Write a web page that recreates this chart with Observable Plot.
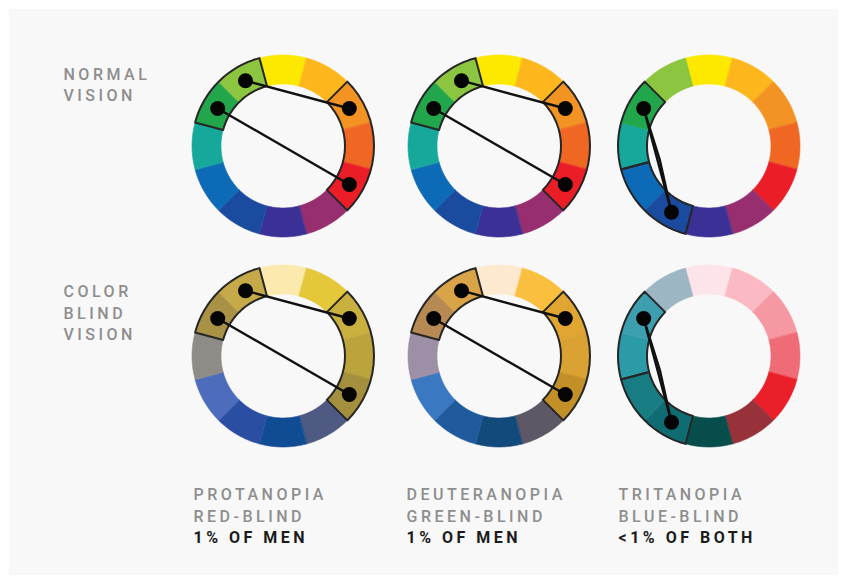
<!DOCTYPE html>
<html><head><meta charset="utf-8">
<script src="https://cdn.jsdelivr.net/npm/d3@7"></script>
<script src="https://cdn.jsdelivr.net/npm/@observablehq/plot@0.6"></script>
<style>
html,body{margin:0;padding:0;background:#fff;}
#wrap{position:relative;width:846px;height:583px;overflow:hidden;}
#panel{position:absolute;left:9px;top:9px;width:829px;height:566px;background:#f8f8f8;}
#chart{position:absolute;left:0;top:0;}
</style></head><body>
<div id="wrap"><div id="panel"></div><div id="chart"></div></div>
<script>
// ---- data ----
// 12 hues, angle in degrees clockwise from top
const hueAngles = [0, 30, 60, 90, 120, 150, 180, 210, 240, 270, 300, 330];
const normalColors = ["#fde800", "#fdb71c", "#f39323", "#f06724", "#eb1d27", "#972e6f", "#3a3096", "#1b4b9f", "#0d6ab7", "#15a89b", "#22a64b", "#8cc540"];
const protanColors = ["#fbe9ad", "#e4c83a", "#c9b03f", "#bca43d", "#a38f3d", "#4f5a83", "#0f4c94", "#2a4ea2", "#4d6cbc", "#8f8c88", "#a99245", "#c6aa49"];
const deuterColors = ["#fde9cf", "#fbbf3f", "#e1a531", "#d9a232", "#c39027", "#5e5866", "#134a7c", "#1e5a9c", "#3a78c2", "#9d8fa5", "#b88a53", "#d9a347"];
const tritanColors = ["#fde3ea", "#fbb9c3", "#f698a2", "#ef6c76", "#ea1f29", "#98323a", "#074d4c", "#0f6c72", "#177d83", "#2c9ba8", "#3c9eae", "#9db6c3"];
const blindColorsByColumn = [protanColors, deuterColors, tritanColors];
// highlighted groups (segment indices) and connected pairs, per column
const groupsByColumn = [[[10, 11], [2, 3, 4]], [[10, 11], [2, 3, 4]], [[9, 10], [7, 8]]];
const pairsByColumn = [[[11, 2], [10, 4]], [[11, 2], [10, 4]], [[10, 7]]];
const rowLabels = [["NORMAL", "VISION"], ["COLOR", "BLIND", "VISION"]];
const columnLabels = [
  ["PROTANOPIA", "RED-BLIND", "1% OF MEN"],
  ["DEUTERANOPIA", "GREEN-BLIND", "1% OF MEN"],
  ["TRITANOPIA", "BLUE-BLIND", "<1% OF BOTH"]
];

// ---- layout ----
const W = 846, H = 583;
const centerX = [283, 499, 709];
const centerY = [146, 356];
const rIn = 62, rOut = 91, rDot = 76;
const half = 15;

const rad = d => d * Math.PI / 180;
const pt = (cx, cy, r, a) => [cx + r * Math.sin(rad(a)), cy - r * Math.cos(rad(a))];

function arcRows(key, cx, cy, a0, a1, extra) {
  const n = 16, rows = [];
  for (let k = 0; k <= n; k++) {
    const a = a0 + (a1 - a0) * k / n;
    const [x1, y1] = pt(cx, cy, rIn, a);
    const [x2, y2] = pt(cx, cy, rOut, a);
    rows.push({key, x1, y1, x2, y2, ...extra});
  }
  return rows;
}

const sectors = [], outlines = [], links = [], dots = [];
for (let row = 0; row < 2; row++) {
  for (let col = 0; col < 3; col++) {
    const cx = centerX[col], cy = centerY[row];
    const colors = row === 0 ? normalColors : blindColorsByColumn[col];
    hueAngles.forEach((a, i) => {
      sectors.push(...arcRows(`s${row}${col}${i}`, cx, cy, a - half, a + half, {color: colors[i]}));
    });
    groupsByColumn[col].forEach((g, gi) => {
      const a0 = hueAngles[g[0]] - half, a1 = hueAngles[g[g.length - 1]] + half;
      outlines.push(...arcRows(`g${row}${col}${gi}`, cx, cy, a0, a1, {}));
    });
    pairsByColumn[col].forEach((p, pi) => {
      const A = pt(cx, cy, rDot, hueAngles[p[0]]), B = pt(cx, cy, rDot, hueAngles[p[1]]);
      links.push({key: `l${row}${col}${pi}`, x: A[0], y: A[1]}, {key: `l${row}${col}${pi}`, x: B[0], y: B[1]});
      if (col === 2) {
        const M = pt(cx, cy, 51.5, 254);
        links.push({key: `m${row}${col}${pi}`, x: A[0], y: A[1]}, {key: `m${row}${col}${pi}`, x: M[0], y: M[1]}, {key: `m${row}${col}${pi}`, x: B[0], y: B[1]});
      }
      dots.push({x: A[0], y: A[1]}, {x: B[0], y: B[1]});
    });
  }
}

const texts = [];
const rowBase = [[80, 101], [297, 319, 340]];
rowLabels.forEach((lines, r) => lines.forEach((t, j) => texts.push({t, x: 63, y: rowBase[r][j] - 5.2, bold: false})));
const colX = [193, 406, 618];
const colBase = [500, 522, 543];
columnLabels.forEach((lines, c) => lines.forEach((t, j) => texts.push({t, x: colX[c], y: colBase[j] - 5.2, bold: j === 2})));

const chart = Plot.plot({
  width: W, height: H, margin: 0,
  x: {domain: [0, W], range: [0, W], axis: null},
  y: {domain: [0, H], range: [0, H], axis: null},
  style: {background: "transparent", fontFamily: "Roboto, sans-serif", letterSpacing: "3.5px"},
  marks: [
    Plot.area(sectors, {x1: "x1", y1: "y1", x2: "x2", y2: "y2", z: "key", fill: "color", stroke: "color", strokeWidth: 0.6, curve: "linear"}),
    Plot.area(outlines, {x1: "x1", y1: "y1", x2: "x2", y2: "y2", z: "key", fill: "none", stroke: "#262626", strokeWidth: 2, curve: "linear"}),
    Plot.line(links, {x: "x", y: "y", z: "key", stroke: "#111", strokeWidth: 2.4, curve: "linear"}),
    Plot.dot(dots, {x: "x", y: "y", r: 7.5, fill: "#050505", stroke: "none"}),
    Plot.text(texts.filter(d => !d.bold), {x: "x", y: "y", text: "t", textAnchor: "start", fontSize: 16, fontWeight: 500, fill: "#8e8e8e"}),
    Plot.text(texts.filter(d => d.bold), {x: "x", y: "y", text: "t", textAnchor: "start", fontSize: 16, fontWeight: 700, fill: "#1c1c1c"})
  ]
});
document.getElementById("chart").appendChild(chart);
</script>
</body></html>
